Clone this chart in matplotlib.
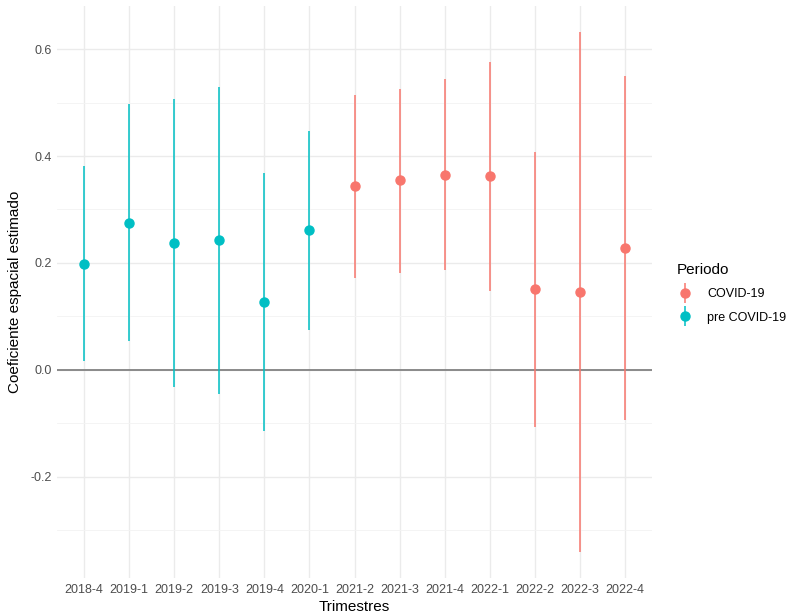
import matplotlib
matplotlib.use("Agg")
import matplotlib.pyplot as plt
from matplotlib.lines import Line2D
import numpy as np

plt.rcParams["font.family"] = ["Liberation Sans", "DejaVu Sans"]

# ── datos ─────────────────────────────────────────────────────────────────────
trimestres = ["2018-4", "2019-1", "2019-2", "2019-3", "2019-4", "2020-1",
              "2021-2", "2021-3", "2021-4", "2022-1", "2022-2", "2022-3", "2022-4"]
periodo = ["pre COVID-19"] * 6 + ["COVID-19"] * 7
coef = [0.198, 0.275, 0.237, 0.242, 0.127, 0.261,
        0.344, 0.355, 0.364, 0.363, 0.151, 0.145, 0.227]
li = [0.016, 0.053, -0.033, -0.045, -0.114, 0.075,
      0.171, 0.182, 0.186, 0.148, -0.107, -0.341, -0.095]
ls = [0.382, 0.497, 0.507, 0.530, 0.369, 0.447,
      0.515, 0.526, 0.544, 0.576, 0.407, 0.632, 0.550]

colores = {"COVID-19": "#F8766D", "pre COVID-19": "#00BFC4"}

# ── figura ────────────────────────────────────────────────────────────────────
fig = plt.figure(figsize=(7.87, 6.15), dpi=100)
ax = fig.add_axes([57/787, 37/615, 595/787, 572/615])

x = np.arange(len(trimestres))
coef = np.array(coef); li = np.array(li); ls = np.array(ls)
per = np.array(periodo)

ax.axhline(0, color="#8a8a8a", lw=1.4, zorder=1)

handles = []
etiquetas = ["COVID-19", "pre COVID-19"]
for p in etiquetas:
    m = per == p
    ax.errorbar(x[m], coef[m], yerr=[coef[m] - li[m], ls[m] - coef[m]],
                fmt="o", color=colores[p], ecolor=colores[p], elinewidth=1.1,
                markersize=6.5, capsize=0, zorder=3)
    barra = Line2D([], [], ls="none", marker="|", markersize=14.5,
                   markeredgewidth=1.1, color=colores[p])
    punto = Line2D([], [], ls="none", marker="o", markersize=6.5, color=colores[p])
    handles.append((barra, punto))

ax.set_xlim(-0.6, 12.6)
ax.set_ylim(-0.39, 0.681)
ax.set_xticks(x)
ax.set_xticklabels(trimestres)
ax.set_yticks([-0.2, 0.0, 0.2, 0.4, 0.6])
ax.set_yticklabels(["-0.2", "0.0", "0.2", "0.4", "0.6"])
ax.set_yticks([-0.3, -0.1, 0.1, 0.3, 0.5], minor=True)

ax.grid(True, which="major", color="#EBEBEB", lw=1.0, zorder=0)
ax.grid(True, which="minor", axis="y", color="#F3F3F3", lw=0.6, zorder=0)
ax.set_axisbelow(True)
for s in ax.spines.values():
    s.set_visible(False)
ax.tick_params(which="both", length=0, labelsize=9, colors="#4D4D4D", pad=4)
ax.set_xlabel("Trimestres", fontsize=11, color="black", labelpad=3)
ax.set_ylabel("Coeficiente espacial estimado", fontsize=11, color="black", labelpad=6)

leg = fig.legend(handles, etiquetas, title="Periodo",
                 loc="upper left", bbox_to_anchor=(666/787, 1 - 252/615),
                 frameon=False, fontsize=9, title_fontsize=11,
                 handlelength=1.2, handletextpad=1.2, labelspacing=0.9)
leg._legend_box.align = "left"

fig.savefig("out.png", dpi=100)
plt.close()
